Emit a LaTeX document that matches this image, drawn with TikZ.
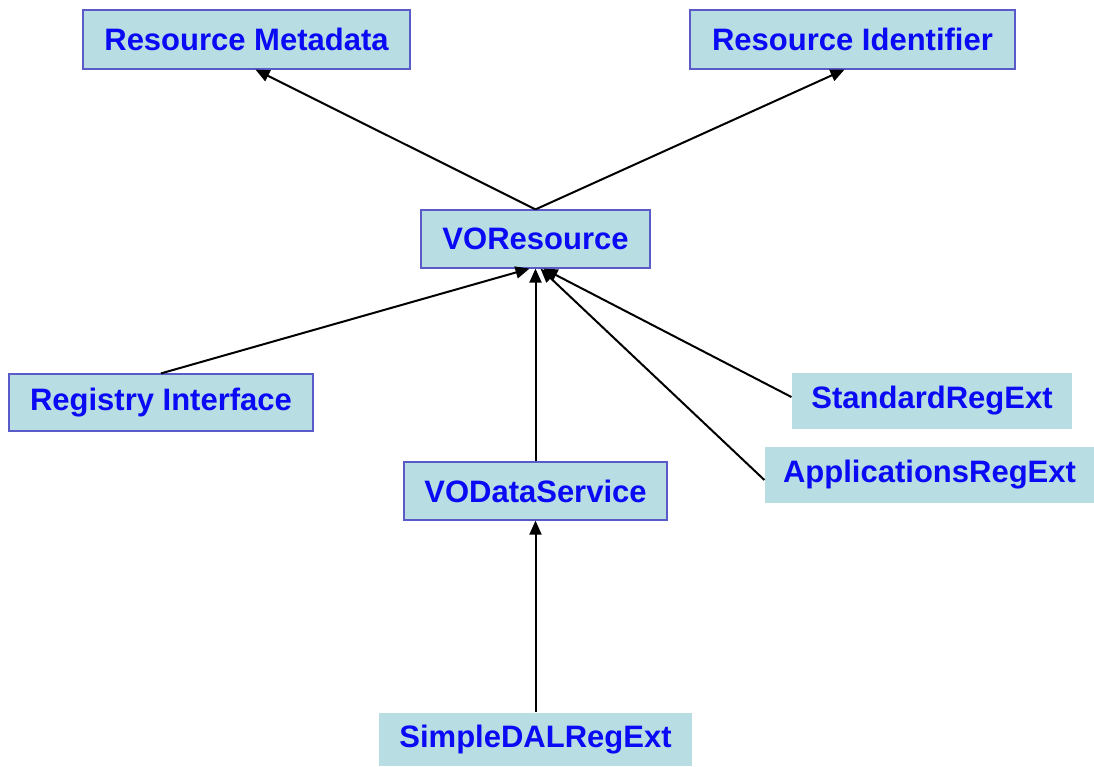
\documentclass[tikz,border=0pt]{standalone}
\usepackage{fontspec}
\setmainfont{Liberation Sans}
\usetikzlibrary{arrows.meta}
\definecolor{boxfill}{RGB}{184,222,227}
\definecolor{boxline}{RGB}{90,90,200}
\definecolor{txtblue}{RGB}{10,10,245}
\tikzset{
  cls/.style={rectangle, fill=boxfill, draw=boxline, line width=1.2pt, inner sep=0pt,
    text=txtblue, font=\fontsize{31}{36}\selectfont\bfseries, anchor=center},
  ext/.style={cls, draw=none},
  inh/.style={draw=black, line width=2pt, -{Triangle[length=14pt,width=12pt]}}
}
\begin{document}
\begin{tikzpicture}[x=1pt,y=-1pt]
\useasboundingbox (0,0) rectangle (1094,766);
\fill[white] (0,0) rectangle (1094,766);
\node[cls, minimum width=327pt, minimum height=59pt] (rm) at (246.5,39.5) {Resource Metadata};
\node[cls, minimum width=325pt, minimum height=59pt] (rid) at (852.5,39.5) {Resource Identifier};
\node[cls, minimum width=229pt, minimum height=58pt] (vor) at (535.5,239) {VOResource};
\node[cls, minimum width=304pt, minimum height=57pt] (reg) at (161,402.5) {Registry Interface};
\node[ext, minimum width=280pt, minimum height=56pt] (std) at (932,401) {StandardRegExt};
\node[ext, minimum width=329pt, minimum height=56pt] (app) at (929.5,475) {ApplicationsRegExt};
\node[cls, minimum width=263pt, minimum height=58pt] (vods) at (535.5,491) {VODataService};
\node[ext, minimum width=313pt, minimum height=53pt] (sdal) at (535.5,739.5) {SimpleDALRegExt};
\draw[inh] (vor.north) -- ([xshift=9pt]rm.south);
\draw[inh] (vor.north) -- ([xshift=-8pt]rid.south);
\draw[inh] (reg.north) -- ([xshift=-6pt]vor.south);
\draw[inh] (vods.north) -- (vor.south);
\draw[inh] ([yshift=4pt]std.west) -- ([xshift=8pt]vor.south);
\draw[inh] ([yshift=-5pt]app.west) -- ([xshift=5pt]vor.south);
\draw[inh] (sdal.north) -- (vods.south);
\end{tikzpicture}
\end{document}
